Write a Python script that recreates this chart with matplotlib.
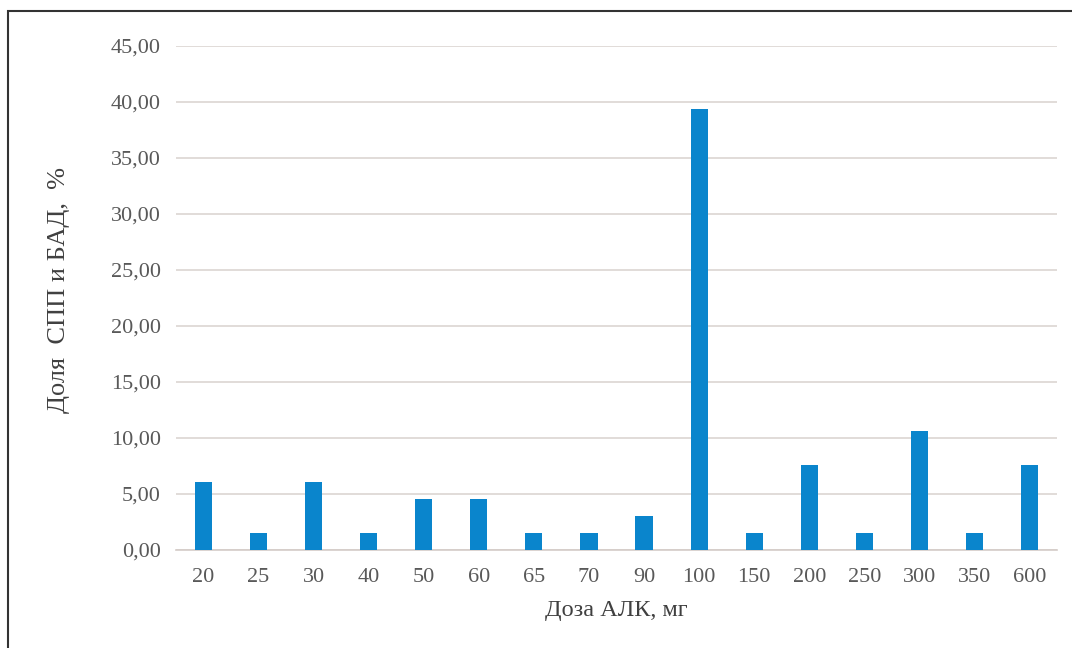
import matplotlib.pyplot as plt
from matplotlib.patches import Rectangle
from matplotlib.ticker import FuncFormatter

plt.rcParams['font.family'] = ['Liberation Serif', 'DejaVu Serif']

#doses and shares
doses = ['20', '25', '30', '40', '50', '60', '65', '70', '90',
         '100', '150', '200', '250', '300', '350', '600']
shares = [6.06, 1.52, 6.06, 1.52, 4.55, 4.55, 1.52, 1.52, 3.03,
          39.39, 1.52, 7.58, 1.52, 10.61, 1.52, 7.58]

fig = plt.figure(figsize=(10.72, 6.48), dpi=100)

#outer frame, only top and left edges visible
fig.patches.append(Rectangle((8/1072, -0.1), 1.2, 1-11/648+0.1,
                             transform=fig.transFigure, fill=False,
                             edgecolor='#333333', linewidth=1.5))

ax = fig.add_axes([176/1072, 1-550/648, 881/1072, 504/648])

x = range(len(doses))
ax.bar(x, shares, width=0.31, color='#0a85cc', zorder=3)

ax.set_xlim(-0.5, len(doses)-0.5)
ax.set_ylim(0, 45)
ax.set_yticks(range(0, 46, 5))
ax.yaxis.set_major_formatter(FuncFormatter(lambda v, p: f'{v:.2f}'.replace('.', ',')))
ax.set_xticks(list(x))
ax.set_xticklabels(doses)

ax.grid(axis='y', color='#dcd6d2', linewidth=1.2, zorder=0)
for s in ['top', 'right', 'left']:
    ax.spines[s].set_visible(False)
ax.spines['bottom'].set_color('#d4ccc8')
ax.spines['bottom'].set_linewidth(1.2)
ax.tick_params(length=0, labelsize=16, labelcolor='#595959')
ax.tick_params(axis='y', pad=11)
ax.tick_params(axis='x', pad=13)

ax.set_xlabel('Доза АЛК, мг', fontsize=17.5, color='#404040', labelpad=9)
ax.set_ylabel('Доля  СПП и БАД,  %', fontsize=19, color='#404040')
ax.yaxis.set_label_coords(-0.12, 0.516)

fig.savefig('out.png', dpi=100)
